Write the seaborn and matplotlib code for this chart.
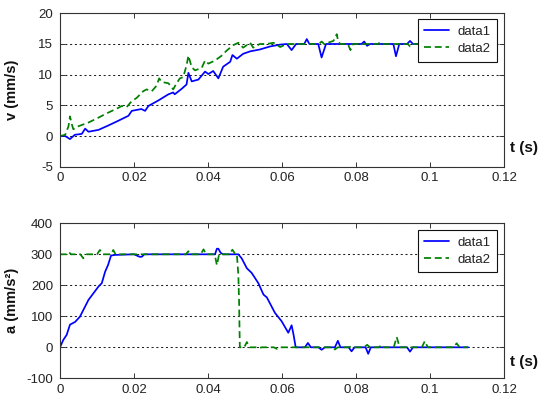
import matplotlib
matplotlib.use("Agg")
import matplotlib.pyplot as plt
import seaborn as sns
import pandas as pd

# ---- data ----
series_names = ["data1", "data2"]

t_v1 = [0, 0.0014, 0.0027, 0.0040, 0.0059, 0.0068, 0.0077, 0.0104, 0.0130, 0.0158, 0.0185, 0.0194,
        0.0220, 0.0230, 0.0239, 0.0266, 0.0293, 0.0306, 0.0310, 0.0329, 0.0342, 0.0347, 0.0356, 0.0374,
        0.0392, 0.0401, 0.0414, 0.0428, 0.0441, 0.0460, 0.0466, 0.0478, 0.0495, 0.0514, 0.0540, 0.0568,
        0.0595, 0.0613, 0.0626, 0.0638, 0.0660, 0.0667, 0.0674, 0.0698, 0.0707, 0.0719, 0.0815, 0.0822,
        0.0830, 0.0838, 0.0901, 0.0908, 0.0917, 0.0938, 0.0946, 0.0954, 0.1000, 0.1103]
v1 = [0, 0, -0.5, 0.2, 0.35, 1.2, 0.7, 1.0, 1.7, 2.5, 3.3, 4.1, 4.4, 4.1, 4.9, 5.8, 6.8, 7.1, 6.8, 7.7,
      8.4, 10.3, 8.9, 9.2, 10.5, 10.1, 10.6, 9.4, 11.3, 12.1, 13.2, 12.6, 13.4, 13.8, 14.1, 14.6, 14.9,
      15.0, 14.0, 15.0, 15.0, 15.8, 15.0, 15.0, 12.8, 15.0, 15.0, 15.4, 14.7, 15.0, 15.0, 13.0, 15.0,
      15.0, 15.5, 15.0, 15.0, 15.0]

t_v2 = [0, 0.0014, 0.0023, 0.0027, 0.0032, 0.0036, 0.0050, 0.0077, 0.0104, 0.0130, 0.0158, 0.0167,
        0.0180, 0.0194, 0.0207, 0.0225, 0.0234, 0.0248, 0.0261, 0.0268, 0.0275, 0.0293, 0.0306, 0.0315,
        0.0324, 0.0333, 0.0342, 0.0347, 0.0356, 0.0365, 0.0383, 0.0392, 0.0401, 0.0419, 0.0437, 0.0450,
        0.0468, 0.0482, 0.0495, 0.0514, 0.0522, 0.0540, 0.0559, 0.0577, 0.0595, 0.0613, 0.0700, 0.0707,
        0.0714, 0.0739, 0.0748, 0.0752, 0.0758, 0.0778, 0.0785, 0.0792, 0.0860, 0.0865, 0.0872, 0.0940,
        0.0946, 0.0952, 0.1103]
v2 = [0, 0.2, 1.6, 3.2, 1.9, 1.1, 1.6, 2.2, 3.0, 3.8, 4.6, 4.9, 4.7, 5.7, 6.2, 7.3, 7.6, 7.3, 8.2, 9.4,
      8.8, 8.6, 7.6, 8.6, 9.4, 9.6, 11.5, 13.1, 11.2, 10.7, 11.1, 12.3, 11.8, 12.3, 13.1, 13.9, 14.8,
      15.2, 14.4, 15.2, 14.4, 15.0, 15.0, 15.2, 14.5, 15.0, 15.0, 15.4, 15.0, 15.5, 16.6, 15.4, 15.0,
      15.0, 14.0, 15.0, 15.0, 15.3, 15.0, 15.0, 14.6, 15.0, 15.0]

t_a1 = [0, 0.0009, 0.0018, 0.0027, 0.0041, 0.0054, 0.0077, 0.0104, 0.0113, 0.0122, 0.0130, 0.0138,
        0.0149, 0.0200, 0.0215, 0.0221, 0.0228, 0.0419, 0.0424, 0.0428, 0.0434, 0.0441, 0.0482, 0.0491,
        0.0505, 0.0518, 0.0536, 0.0550, 0.0559, 0.0581, 0.0599, 0.0617, 0.0626, 0.0631, 0.0637, 0.0662,
        0.0670, 0.0678, 0.0698, 0.0707, 0.0716, 0.0743, 0.0751, 0.0758, 0.0780, 0.0788, 0.0796, 0.0826,
        0.0833, 0.0840, 0.0938, 0.0946, 0.0954, 0.1103]
a1 = [0, 24, 40, 73, 82, 99, 153, 196, 207, 244, 266, 296, 298, 300, 292, 292, 300, 300, 318, 318, 305,
      300, 300, 287, 255, 240, 207, 170, 161, 111, 84, 47, 71, 42, 0, 0, 14, 0, 0, -8, 0, 0, 21, 0, 0,
      -13, 0, 0, -21, 0, 0, -14, 0, 0]

t_a2 = [0, 0.0018, 0.0023, 0.0030, 0.0055, 0.0063, 0.0072, 0.0100, 0.0108, 0.0116, 0.0138, 0.0144,
        0.0150, 0.0340, 0.0347, 0.0354, 0.0380, 0.0388, 0.0395, 0.0418, 0.0424, 0.0430, 0.0458, 0.0466,
        0.0474, 0.0478, 0.0482, 0.0484, 0.0486, 0.0498, 0.0505, 0.0512, 0.0530, 0.0538, 0.0546, 0.0578,
        0.0586, 0.0594, 0.0735, 0.0743, 0.0751, 0.0780, 0.0788, 0.0796, 0.0822, 0.0830, 0.0838, 0.0862,
        0.0869, 0.0876, 0.0902, 0.0910, 0.0918, 0.0978, 0.0986, 0.0994, 0.1064, 0.1072, 0.1080, 0.1103]
a2 = [300, 300, 308, 300, 300, 287, 300, 300, 314, 300, 300, 314, 300, 300, 310, 300, 300, 316, 300,
      300, 265, 300, 300, 315, 300, 300, 233, 147, 0, 0, 17, 0, 0, -2, 0, 0, -5, 0, 0, -7, 0, 0, 3, 0, 0,
      8, 0, 0, 8, 0, 0, 33, 0, 0, 20, 0, 0, 13, 0, 0]

x_ticks = [0, 0.02, 0.04, 0.06, 0.08, 0.1, 0.12]
x_ticklabels = ["0", "0.02", "0.04", "0.06", "0.08", "0.1", "0.12"]
v_ticks = [-5, 0, 5, 10, 15, 20]
a_ticks = [-100, 0, 100, 200, 300, 400]
v_label = "v (mm/s)"
a_label = "a (mm/s²)"
t_label = "t (s)"

# ---- style ----
sns.set_theme(style="white")
plt.rcParams["font.family"] = ["Liberation Sans", "DejaVu Sans"]

palette = {"data1": "#0000ff", "data2": "#008000"}
dashes = {"data1": "", "data2": (4, 2.2)}

fig = plt.figure(figsize=(5.41, 4.0), dpi=100)
fig.patch.set_facecolor("white")

ax_top = fig.add_axes([60 / 541, 1 - 166.7 / 400, 444 / 541, 153.4 / 400])
ax_bot = fig.add_axes([60 / 541, 1 - 378.3 / 400, 444 / 541, 155 / 400])


def make_df(t1, y1, t2, y2):
    return pd.concat([
        pd.DataFrame({"t": t1, "y": y1, "series": series_names[0]}),
        pd.DataFrame({"t": t2, "y": y2, "series": series_names[1]}),
    ], ignore_index=True)


panels = [
    (ax_top, make_df(t_v1, v1, t_v2, v2), v_ticks, v_label, 0.961, 0.122),
    (ax_bot, make_df(t_a1, a1, t_a2, a2), a_ticks, a_label, 0.957, 0.107),
]

for ax, df, yt, ylab, leg_top, tlab_y in panels:
    sns.lineplot(data=df, x="t", y="y", hue="series", style="series",
                 palette=palette, dashes=dashes, estimator=None, sort=False,
                 linewidth=1.25, ax=ax)
    ax.set_xlim(0, 0.12)
    ax.set_ylim(yt[0], yt[-1])
    ax.set_xticks(x_ticks)
    ax.set_xticklabels(x_ticklabels)
    ax.set_yticks(yt)
    ax.set_yticklabels([str(v) for v in yt])
    ax.tick_params(direction="in", length=3.5, width=0.7, colors="#333333",
                   labelcolor="#222222", labelsize=9.5, top=True, right=True,
                   bottom=True, left=True, pad=4)
    ax.tick_params(axis="y", pad=5)
    for sp in ax.spines.values():
        sp.set_color("#333333")
        sp.set_linewidth(0.8)
    ax.yaxis.grid(True, color="#222222", linestyle=(0, (2, 2.6)), linewidth=0.75)
    ax.xaxis.grid(False)
    ax.set_axisbelow(True)
    ax.set_xlabel("")
    ax.set_ylabel(ylab, fontsize=10.5, fontweight="bold", color="#111111")
    ax.yaxis.set_label_coords(-0.092, 0.5)
    ax.text(1.0135, tlab_y, t_label, transform=ax.transAxes, ha="left", va="center",
            fontsize=11, fontweight="bold", color="#111111")
    sns.move_legend(ax, "upper right", bbox_to_anchor=(0.984, leg_top), title=None,
                    frameon=True, fancybox=False, framealpha=1, edgecolor="#111111",
                    fontsize=9.5, handlelength=1.85, handletextpad=0.65, borderpad=0.5,
                    labelspacing=0.35, borderaxespad=0)
    leg = ax.get_legend()
    leg.get_frame().set_linewidth(0.8)
    for txt in leg.get_texts():
        txt.set_color("#222222")

fig.savefig("out.png", dpi=100, facecolor="white")
